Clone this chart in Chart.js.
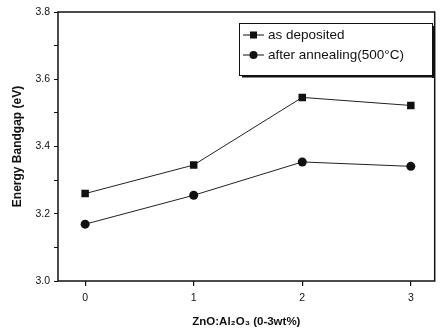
<!DOCTYPE html>
<html><head><meta charset="utf-8">
<script src="https://cdn.jsdelivr.net/npm/chart.js@4/dist/chart.umd.min.js"></script>
<style>html,body{margin:0;padding:0;background:#fff}#wrap{width:440px;height:329px}</style>
</head><body><div id="wrap"><canvas id="c" width="440" height="329"></canvas></div>
<script>
const categories = [0, 1, 2, 3];
const asDeposited = [3.26, 3.345, 3.546, 3.522];
const afterAnnealing = [3.169, 3.255, 3.354, 3.341];
const seriesNames = ['as deposited', 'after annealing(500°C)'];
const yTickLabels = ['3.0', '3.2', '3.4', '3.6', '3.8'];
const xTitle = 'ZnO:Al₂O₃ (0-3wt%)';
const yTitle = 'Energy Bandgap (eV)';

const FONT = '"Liberation Sans", Arial, sans-serif';

const framePlugin = {
  id: 'frame',
  beforeDatasetsDraw(chart) {
    const {ctx, chartArea: a} = chart;
    ctx.save();
    ctx.strokeStyle = '#111';
    ctx.lineWidth = 1.5;
    ctx.strokeRect(a.left, a.top, a.right - a.left, a.bottom - a.top);
    ctx.restore();
  },
  afterDraw(chart) {
    const {ctx} = chart;
    const x0 = 239, y0 = 23, w = 193, h = 52;
    ctx.save();
    ctx.fillStyle = '#fff';
    ctx.fillRect(x0, y0, w, h);
    ctx.fillStyle = '#111';
    ctx.fillRect(x0 + 3, y0 + h, w, 2.5);
    ctx.fillRect(x0 + w, y0 + 3, 2.5, h);
    ctx.strokeStyle = '#111';
    ctx.lineWidth = 1;
    ctx.strokeRect(x0 + 0.5, y0 + 0.5, w, h);
    const rows = [y0 + 12, y0 + 32];
    chart.data.datasets.forEach((ds, i) => {
      const y = rows[i];
      ctx.beginPath();
      ctx.moveTo(x0 + 4, y); ctx.lineTo(x0 + 25, y);
      ctx.lineWidth = 1; ctx.stroke();
      const cx = x0 + 14.5;
      ctx.fillStyle = '#111';
      if (ds.pointStyle === 'rect') {
        ctx.fillRect(cx - 3.5, y - 3.5, 7, 7);
      } else {
        ctx.beginPath(); ctx.arc(cx, y, 4, 0, Math.PI * 2); ctx.fill();
      }
      ctx.font = '13.5px ' + FONT;
      ctx.textBaseline = 'middle';
      ctx.fillText(ds.label, x0 + 29, y + 0.5);
    });
    ctx.restore();
  }
};

new Chart(document.getElementById('c'), {
  type: 'line',
  data: {
    datasets: [
      {
        label: seriesNames[0],
        data: categories.map((x, i) => ({x, y: asDeposited[i]})),
        borderColor: '#222', backgroundColor: '#111', borderWidth: 1,
        pointStyle: 'rect', pointRadius: 5.3, pointBorderWidth: 0, tension: 0
      },
      {
        label: seriesNames[1],
        data: categories.map((x, i) => ({x, y: afterAnnealing[i]})),
        borderColor: '#222', backgroundColor: '#111', borderWidth: 1,
        pointStyle: 'circle', pointRadius: 4.5, pointBorderWidth: 0, tension: 0
      }
    ]
  },
  options: {
    responsive: false,
    animation: false,
    devicePixelRatio: 1,
    layout: {padding: {top: 12, right: 2, left: 0, bottom: 0}},
    plugins: {legend: {display: false}, tooltip: {enabled: false}},
    scales: {
      x: {
        type: 'linear', min: -0.25, max: 3.22,
        afterBuildTicks(s) { s.ticks = categories.map(v => ({value: v})); },
        afterFit(s) { s.height = 48; },
        grid: {drawOnChartArea: false, tickLength: 5, color: '#111', lineWidth: 1.2},
        border: {display: false},
        ticks: {color: '#111', font: {family: FONT, size: 10.5}, padding: 6},
        title: {display: true, text: xTitle, color: '#111', font: {family: FONT, size: 11.5, weight: 'bold'}, padding: {top: 3, bottom: 0}}
      },
      y: {
        min: 3.0, max: 3.8,
        afterBuildTicks(s) {
          const t = [];
          for (let i = 0; i <= 8; i++) t.push({value: 3.0 + i * 0.1});
          s.ticks = t;
        },
        afterFit(s) { s.width = 58; },
        grid: {drawOnChartArea: false, tickLength: 4, color: '#111', lineWidth: 1},
        border: {display: false},
        ticks: {
          color: '#111', font: {family: FONT, size: 10.5}, padding: 4,
          callback(v) {
            const k = Math.round(v * 10);
            return k % 2 === 0 ? yTickLabels[(k - 30) / 2] : '';
          }
        },
        title: {display: true, text: yTitle, color: '#111', font: {family: FONT, size: 12, weight: 'bold'}, padding: {top: 10, bottom: 0}}
      }
    }
  },
  plugins: [framePlugin]
});
</script></body></html>
